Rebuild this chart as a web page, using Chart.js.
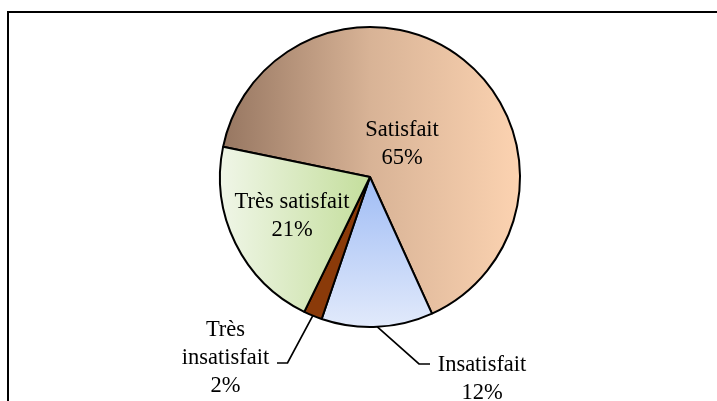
<!DOCTYPE html>
<html>
<head>
<meta charset="utf-8">
<script src="https://cdn.jsdelivr.net/npm/chart.js@4/dist/chart.umd.min.js"></script>
<style>
    html, body { margin: 0; padding: 0; background: #fff; overflow: hidden; }
    #wrap { position: relative; width: 717px; height: 401px; }
    #frame {
        position: absolute; left: 7px; top: 11px;
        width: 740px; height: 420px;
        border: 2px solid #000; box-sizing: border-box;
    }
    #pieChart { position: absolute; left: 0; top: 0; }
</style>
</head>
<body>
<div id="wrap">
    <div id="frame"></div>
    <canvas id="pieChart" width="717" height="401"></canvas>
</div>
<script>
const categories = ['Satisfait', 'Insatisfait', 'Très insatisfait', 'Très satisfait'];
const percentages = [65, 12, 2, 21];
const startAngle = -78.4;

// where each label sits, relative to the pie centre (px)
const labelLayout = [
    { dx: 32, dy: -41, lines: ['Satisfait'] },
    { dx: 112, dy: 194, lines: ['Insatisfait'], elbow: [49, 187], end: [60, 187] },
    { dx: -144.5, dy: 159, lines: ['Très', 'insatisfait'], elbow: [-82.5, 186], end: [-93, 186] },
    { dx: -78, dy: 31, lines: ['Très satisfait'] }
];

function sliceFill(context) {
    const chart = context.chart;
    const area = chart.chartArea;
    const i = context.dataIndex;
    const fallback = ['#d6b194', '#c0d2f7', '#8b3b0a', '#dcebc5'][i];
    if (!area) return fallback;
    const c = chart.ctx;
    const cx = (area.left + area.right) / 2;
    const cy = (area.top + area.bottom) / 2;
    let g;
    if (i === 0) {
        g = c.createLinearGradient(area.left, 0, area.right, 0);
        g.addColorStop(0, '#957560');
        g.addColorStop(0.5, '#d8b396');
        g.addColorStop(1, '#fcd3b1');
    } else if (i === 1) {
        g = c.createLinearGradient(0, cy, 0, area.bottom);
        g.addColorStop(0, '#9fbcf5');
        g.addColorStop(1, '#e2eafb');
    } else if (i === 2) {
        return '#8a3a09';
    } else {
        g = c.createLinearGradient(area.left, 0, cx, 0);
        g.addColorStop(0, '#f0f6e8');
        g.addColorStop(1, '#c4de9c');
    }
    return g;
}

const labelPlugin = {
    id: 'sliceLabels',
    afterDatasetsDraw(chart) {
        const ctx = chart.ctx;
        const meta = chart.getDatasetMeta(0);
        ctx.save();
        ctx.font = '22.5px "Liberation Serif", "Times New Roman", serif';
        ctx.fillStyle = '#000';
        ctx.textAlign = 'center';
        ctx.textBaseline = 'alphabetic';
        ctx.strokeStyle = '#000';
        ctx.lineWidth = 1.7;
        meta.data.forEach((arc, i) => {
            const p = arc.getProps(['x', 'y', 'startAngle', 'endAngle', 'outerRadius'], true);
            const lay = labelLayout[i];
            if (lay.elbow) {
                const mid = (p.startAngle + p.endAngle) / 2;
                ctx.beginPath();
                ctx.moveTo(p.x + Math.cos(mid) * p.outerRadius, p.y + Math.sin(mid) * p.outerRadius);
                ctx.lineTo(p.x + lay.elbow[0], p.y + lay.elbow[1]);
                ctx.lineTo(p.x + lay.end[0], p.y + lay.end[1]);
                ctx.stroke();
            }
            const lines = lay.lines.concat([percentages[i] + '%']);
            lines.forEach((t, k) => {
                ctx.fillText(t, p.x + lay.dx, p.y + lay.dy + k * 28);
            });
        });
        ctx.restore();
    }
};

new Chart(document.getElementById('pieChart').getContext('2d'), {
    type: 'pie',
    data: {
        labels: categories,
        datasets: [{
            data: percentages,
            backgroundColor: sliceFill,
            borderColor: '#000',
            borderWidth: 2,
            hoverOffset: 0
        }]
    },
    options: {
        responsive: false,
        animation: false,
        devicePixelRatio: 1,
        rotation: startAngle,
        events: [],
        layout: { padding: { left: 219, right: 196, top: 26, bottom: 73 } },
        plugins: {
            legend: { display: false },
            tooltip: { enabled: false }
        }
    },
    plugins: [labelPlugin]
});
</script>
</body>
</html>
